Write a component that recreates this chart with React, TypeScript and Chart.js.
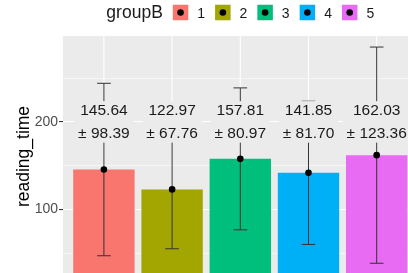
import React, { useEffect, useRef } from "react";
import { Chart, registerables } from "chart.js";
Chart.register(...registerables);

const categories = ["1", "2", "3", "4", "5"];
const means = [145.64, 122.97, 157.81, 141.85, 162.03];
const sds = [98.39, 67.76, 80.97, 81.7, 123.36];
const colors = ["#F8766D", "#A3A500", "#00BF7D", "#00B0F6", "#E76BF3"];
const legendTitle = "groupB";
const yTitle = "reading_time";
const labelYValue = 200;
const yMin = 23;
const yMax = 298;

const FONT = "'Liberation Sans', Arial, Helvetica, sans-serif";

const panelBg = {
  id: "panelBg",
  beforeDraw(chart: any) {
    const { ctx, chartArea: a } = chart;
    ctx.save();
    ctx.fillStyle = "#EBEBEB";
    ctx.fillRect(a.left, a.top, a.right - a.left, a.bottom - a.top);
    ctx.restore();
  },
};

const vGrid = {
  id: "vGrid",
  beforeDatasetsDraw(chart: any) {
    const { ctx, chartArea: a } = chart;
    const xs = chart.scales.x;
    ctx.save();
    ctx.strokeStyle = "#FFFFFF";
    ctx.lineWidth = 1.1;
    categories.forEach((_, i) => {
      const x = xs.getPixelForValue(i + 1);
      ctx.beginPath();
      ctx.moveTo(x, a.top);
      ctx.lineTo(x, a.bottom);
      ctx.stroke();
    });
    ctx.restore();
  },
};

const errLabels = {
  id: "errLabels",
  afterDatasetsDraw(chart: any) {
    const { ctx, chartArea: a } = chart;
    const xs = chart.scales.x;
    const ys = chart.scales.y;
    ctx.save();
    ctx.beginPath();
    ctx.rect(a.left, a.top, a.right - a.left, a.bottom - a.top);
    ctx.clip();
    const capHalf = xs.getPixelForValue(1.1) - xs.getPixelForValue(1);
    categories.forEach((_, i) => {
      const x = xs.getPixelForValue(i + 1);
      const t = ys.getPixelForValue(means[i] + sds[i]);
      const b = ys.getPixelForValue(means[i] - sds[i]);
      ctx.strokeStyle = "#333333";
      ctx.lineWidth = 1;
      ctx.beginPath();
      ctx.moveTo(x, t);
      ctx.lineTo(x, b);
      ctx.moveTo(x - capHalf, t);
      ctx.lineTo(x + capHalf, t);
      ctx.moveTo(x - capHalf, b);
      ctx.lineTo(x + capHalf, b);
      ctx.stroke();
      ctx.fillStyle = "#000000";
      ctx.beginPath();
      ctx.arc(x, ys.getPixelForValue(means[i]), 3.3, 0, Math.PI * 2);
      ctx.fill();
    });
    ctx.font = `15.5px ${FONT}`;
    ctx.textAlign = "center";
    ctx.textBaseline = "middle";
    categories.forEach((_, i) => {
      const x = xs.getPixelForValue(i + 1);
      const cy = ys.getPixelForValue(labelYValue);
      const l1 = means[i].toFixed(2);
      const l2 = "± " + sds[i].toFixed(2);
      const w = Math.max(ctx.measureText(l1).width, ctx.measureText(l2).width) + 7.6;
      ctx.fillStyle = "#EBEBEB";
      ctx.fillRect(x - w / 2, cy - 20.75, w, 41.5);
      ctx.fillStyle = "#1a1a1a";
      ctx.fillText(l1, x, cy - 11);
      ctx.fillText(l2, x, cy + 11.5);
    });
    ctx.restore();
  },
};

const legendPlugin = {
  id: "customLegend",
  afterDraw(chart: any) {
    const { ctx, chartArea: a } = chart;
    ctx.save();
    ctx.font = `17.5px ${FONT}`;
    const tw = ctx.measureText(legendTitle).width;
    ctx.font = `14px ${FONT}`;
    const key = 15.5;
    const items = categories.map((c) => ctx.measureText(c).width);
    let total = tw + 10;
    items.forEach((lw, i) => {
      total += key + 9 + lw + (i < items.length - 1 ? 10 : 0);
    });
    const cx = (a.left + a.right) / 2;
    let x = cx - total / 2;
    const cy = 12.5;
    ctx.fillStyle = "#1a1a1a";
    ctx.textBaseline = "alphabetic";
    ctx.textAlign = "left";
    ctx.font = `17.5px ${FONT}`;
    ctx.fillText(legendTitle, x, 18);
    x += tw + 10;
    ctx.font = `14px ${FONT}`;
    categories.forEach((c, i) => {
      ctx.fillStyle = colors[i];
      ctx.fillRect(x, cy - key / 2, key, key);
      ctx.fillStyle = "#000000";
      ctx.beginPath();
      ctx.arc(x + key / 2, cy, 3.3, 0, Math.PI * 2);
      ctx.fill();
      ctx.fillStyle = "#1a1a1a";
      ctx.fillText(c, x + key + 9, 18);
      x += key + 9 + items[i] + 10;
    });
    ctx.restore();
  },
};

export default function App() {
  const ref = useRef<HTMLCanvasElement | null>(null);
  useEffect(() => {
    if (!ref.current) return;
    const chart = new Chart(ref.current, {
      type: "bar",
      data: {
        datasets: [
          {
            data: categories.map((_, i) => ({ x: i + 1, y: means[i] })),
            backgroundColor: colors,
            borderWidth: 0,
            barPercentage: 0.9,
            categoryPercentage: 1.0,
          },
        ],
      },
      options: {
        animation: false,
        responsive: false,
        devicePixelRatio: 1,
        layout: { padding: { top: 36, left: 0, right: 2.4, bottom: 0 } },
        plugins: { legend: { display: false }, tooltip: { enabled: false } },
        scales: {
          x: {
            type: "linear",
            min: 0.4,
            max: 5.6,
            display: false,
            offset: false,
            ticks: { stepSize: 1, includeBounds: false },
          },
          y: {
            min: yMin,
            max: yMax,
            afterFit: (s: any) => {
              s.width = 63;
              s.paddingTop = 0;
              s.paddingBottom = 0;
            },
            border: { display: false },
            grid: {
              color: "#FFFFFF",
              lineWidth: (c: any) => (c.tick && c.tick.value % 100 === 0 ? 1.1 : 0.55),
              tickColor: (c: any) => (c.tick && c.tick.value % 100 === 0 ? "#333333" : "rgba(0,0,0,0)"),
              tickWidth: 1.1,
              tickLength: 4,
              drawTicks: true,
            },
            ticks: {
              stepSize: 50,
              includeBounds: false,
              padding: 1,
              color: "#4D4D4D",
              font: { family: FONT, size: 14 },
              callback: (v: any) => (Number(v) % 100 === 0 ? String(v) : ""),
            },
            title: {
              display: true,
              text: yTitle,
              color: "#000000",
              font: { family: FONT, size: 17.5 },
              padding: { top: 14, bottom: 0 },
            },
          },
        },
      },
      plugins: [panelBg, vGrid, errLabels, legendPlugin],
    } as any);
    return () => chart.destroy();
  }, []);
  return (
    <div style={{ position: "fixed", left: 0, top: 0, width: 408, height: 273, overflow: "hidden", background: "#fff" }}>
      <canvas ref={ref} width={420} height={277} style={{ display: "block" }} />
    </div>
  );
}
